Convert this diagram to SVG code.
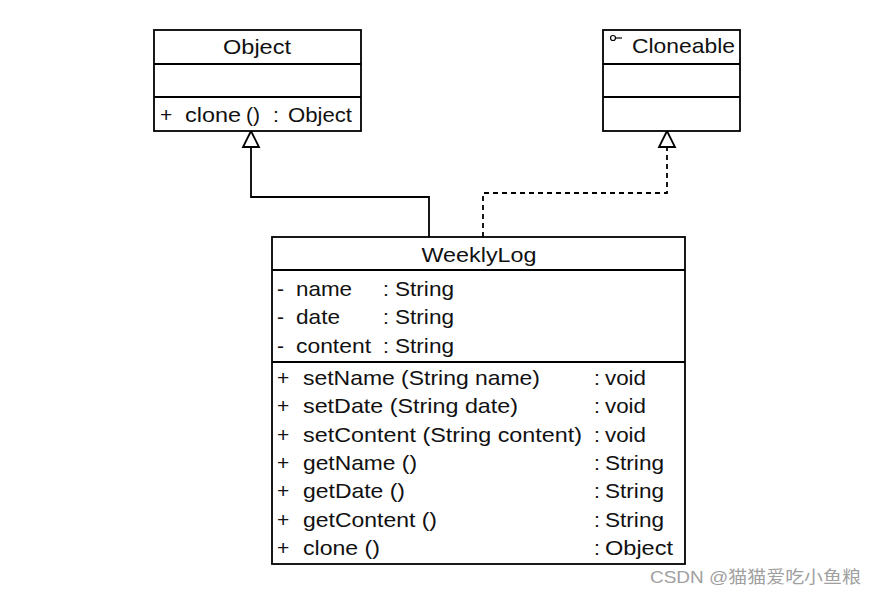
<svg xmlns="http://www.w3.org/2000/svg" width="876" height="596" viewBox="0 0 876 596">
<style>
.box{fill:#fff;stroke:#000;stroke-width:1.8}
.div{stroke:#000;stroke-width:1.8}
text{font-family:"Liberation Sans",Arial,sans-serif;font-size:21px;fill:#111}
.c{text-anchor:middle}
.conn{fill:none;stroke:#000;stroke-width:1.8}
.dash{stroke-dasharray:5 4}
.tri{fill:#fff;stroke:#000;stroke-width:1.8}
.wm{font-family:"Liberation Sans","Noto Sans CJK SC",sans-serif;font-size:17px;fill:#a0a0a0}
</style>
<rect width="876" height="596" fill="#fff"/>
<g id="connectors">
<polyline class="conn" points="429,237 429,197 251,197 251,147"/>
<polygon class="tri" points="251,131 243,147 259,147"/>
<polyline class="conn dash" points="483,237 483,193 667,193 667,147"/>
<polygon class="tri" points="667,131 659,147 675,147"/>
</g>
<g id="Object">
<rect class="box" x="154" y="30" width="207" height="101"/>
<line class="div" x1="154" y1="64" x2="361" y2="64"/>
<line class="div" x1="154" y1="97" x2="361" y2="97"/>
<text class="c" x="257" y="54" textLength="68" lengthAdjust="spacingAndGlyphs">Object</text>
<text x="160" y="122">+</text>
<text x="185" y="122" textLength="56" lengthAdjust="spacingAndGlyphs">clone</text>
<text x="246" y="122">()</text>
<text x="273" y="122">:</text>
<text x="288" y="122" textLength="64" lengthAdjust="spacingAndGlyphs">Object</text>
</g>
<g id="Cloneable">
<rect class="box" x="603" y="30" width="137" height="101"/>
<line class="div" x1="603" y1="64" x2="740" y2="64"/>
<line class="div" x1="603" y1="97" x2="740" y2="97"/>
<circle cx="613" cy="38" r="2.5" fill="none" stroke="#000" stroke-width="1.2"/>
<line x1="615.5" y1="38" x2="622" y2="38" stroke="#000" stroke-width="1.2"/>
<text x="632" y="53" textLength="103" lengthAdjust="spacingAndGlyphs">Cloneable</text>
</g>
<g id="WeeklyLog">
<rect class="box" x="272" y="237" width="413" height="327"/>
<line class="div" x1="272" y1="270" x2="685" y2="270"/>
<line class="div" x1="272" y1="362" x2="685" y2="362"/>
<text class="c" x="479" y="262" textLength="115" lengthAdjust="spacingAndGlyphs">WeeklyLog</text>
<text x="277" y="296">-</text><text x="296" y="296" textLength="56" lengthAdjust="spacingAndGlyphs">name</text><text x="383" y="296">:</text><text x="395" y="296" textLength="59" lengthAdjust="spacingAndGlyphs">String</text>
<text x="277" y="324">-</text><text x="296" y="324" textLength="44" lengthAdjust="spacingAndGlyphs">date</text><text x="383" y="324">:</text><text x="395" y="324" textLength="59" lengthAdjust="spacingAndGlyphs">String</text>
<text x="277" y="353">-</text><text x="296" y="353" textLength="75" lengthAdjust="spacingAndGlyphs">content</text><text x="383" y="353">:</text><text x="395" y="353" textLength="59" lengthAdjust="spacingAndGlyphs">String</text>
<text x="277" y="385">+</text><text x="303" y="385" textLength="237" lengthAdjust="spacingAndGlyphs">setName (String name)</text><text x="594" y="385">:</text><text x="605" y="385" textLength="41" lengthAdjust="spacingAndGlyphs">void</text>
<text x="277" y="413">+</text><text x="303" y="413" textLength="215" lengthAdjust="spacingAndGlyphs">setDate (String date)</text><text x="594" y="413">:</text><text x="605" y="413" textLength="41" lengthAdjust="spacingAndGlyphs">void</text>
<text x="277" y="442">+</text><text x="303" y="442" textLength="279" lengthAdjust="spacingAndGlyphs">setContent (String content)</text><text x="594" y="442">:</text><text x="605" y="442" textLength="41" lengthAdjust="spacingAndGlyphs">void</text>
<text x="277" y="470">+</text><text x="303" y="470" textLength="114" lengthAdjust="spacingAndGlyphs">getName ()</text><text x="594" y="470">:</text><text x="605" y="470" textLength="59" lengthAdjust="spacingAndGlyphs">String</text>
<text x="277" y="498">+</text><text x="303" y="498" textLength="102" lengthAdjust="spacingAndGlyphs">getDate ()</text><text x="594" y="498">:</text><text x="605" y="498" textLength="59" lengthAdjust="spacingAndGlyphs">String</text>
<text x="277" y="527">+</text><text x="303" y="527" textLength="134" lengthAdjust="spacingAndGlyphs">getContent ()</text><text x="594" y="527">:</text><text x="605" y="527" textLength="59" lengthAdjust="spacingAndGlyphs">String</text>
<text x="277" y="555">+</text><text x="303" y="555" textLength="77" lengthAdjust="spacingAndGlyphs">clone ()</text><text x="594" y="555">:</text><text x="605" y="555" textLength="68" lengthAdjust="spacingAndGlyphs">Object</text>
</g>
<text class="wm" x="650" y="583" textLength="211" lengthAdjust="spacingAndGlyphs">CSDN @猫猫爱吃小鱼粮</text>
</svg>
